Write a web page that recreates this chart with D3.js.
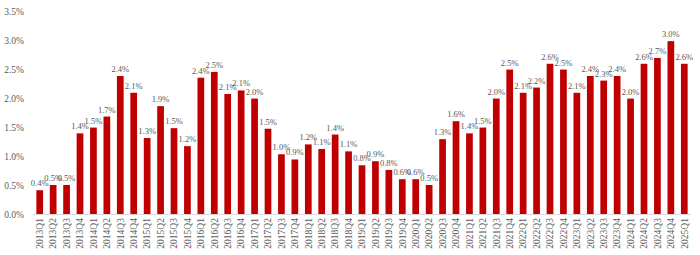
<!DOCTYPE html>
<html>
<head>
<meta charset="utf-8">
<script src="https://cdn.jsdelivr.net/npm/d3@7"></script>
<style>
  body { margin: 0; background: #fff; }
  svg text { font-family: "Liberation Serif", "DejaVu Serif", serif; }
</style>
</head>
<body>
<script>
// quarters and growth values (%)
var years = ["2013", "2014", "2015", "2016", "2017", "2018", "2019", "2020", "2021", "2022", "2023", "2024", "2025"];
var quarters = [];
years.forEach(function (y) {
  ["Q1", "Q2", "Q3", "Q4"].forEach(function (q) {
    if (quarters.length < 49) quarters.push(y + q);
  });
});

var values = [
  0.41, 0.50, 0.50, 1.39,
  1.49, 1.68, 2.38, 2.09,
  1.31, 1.86, 1.48, 1.17,
  2.35, 2.45, 2.07, 2.13,
  1.99, 1.47, 1.03, 0.94,
  1.20, 1.12, 1.37, 1.08,
  0.84, 0.91, 0.76, 0.60,
  0.60, 0.50, 1.29, 1.60,
  1.39, 1.49, 1.99, 2.49,
  2.09, 2.18, 2.59, 2.49,
  2.09, 2.38, 2.30, 2.38,
  1.99, 2.59, 2.69, 2.98,
  2.59
];

var yTicks = [0, 0.5, 1.0, 1.5, 2.0, 2.5, 3.0, 3.5];

var width = 700, height = 255;
var margin = { top: 11, right: 9, bottom: 41, left: 33 };

var svg = d3.select("body").append("svg")
  .attr("width", width)
  .attr("height", height);

var x = d3.scaleBand()
  .domain(quarters)
  .range([margin.left, width - margin.right])
  .paddingInner(0.5)
  .paddingOuter(0.25);

var y = d3.scaleLinear()
  .domain([0, 3.5])
  .range([height - margin.bottom, margin.top]);

// y axis labels
svg.append("g")
  .attr("transform", "translate(" + (margin.left - 6) + ",0)")
  .call(d3.axisLeft(y).tickValues(yTicks).tickSize(0).tickFormat(function (d) { return d.toFixed(1) + "%"; }))
  .call(function (g) { g.select(".domain").remove(); })
  .selectAll("text")
  .attr("fill", "#595959")
  .style("font-size", "9.5px");

// bars
svg.selectAll("rect.bar")
  .data(values)
  .enter()
  .append("rect")
  .attr("class", "bar")
  .attr("x", function (d, i) { return x(quarters[i]); })
  .attr("width", x.bandwidth())
  .attr("y", function (d) { return y(d); })
  .attr("height", function (d) { return y(0) - y(d); })
  .attr("fill", "#C00000");

// baseline + x labels
var xAxis = svg.append("g")
  .attr("transform", "translate(0," + y(0) + ")")
  .call(d3.axisBottom(x).tickSize(0).tickPadding(0));
xAxis.select(".domain").attr("stroke", "#d9d9d9").attr("d", "M" + margin.left + ",0.5H" + (width - margin.right));
xAxis.selectAll("text")
  .attr("fill", "#595959")
  .style("font-size", "9.5px")
  .attr("text-anchor", "end")
  .attr("transform", "rotate(-90)")
  .attr("x", -4)
  .attr("y", 0)
  .attr("dy", "0.35em");

// value labels
svg.selectAll("text.val")
  .data(values)
  .enter()
  .append("text")
  .attr("class", "val")
  .attr("x", function (d, i) { return x(quarters[i]) + x.bandwidth() / 2; })
  .attr("y", function (d) { return y(d) - 4; })
  .attr("text-anchor", "middle")
  .attr("fill", "#595959")
  .style("font-size", "8.5px")
  .text(function (d) { return d.toFixed(1) + "%"; });
</script>
</body>
</html>
